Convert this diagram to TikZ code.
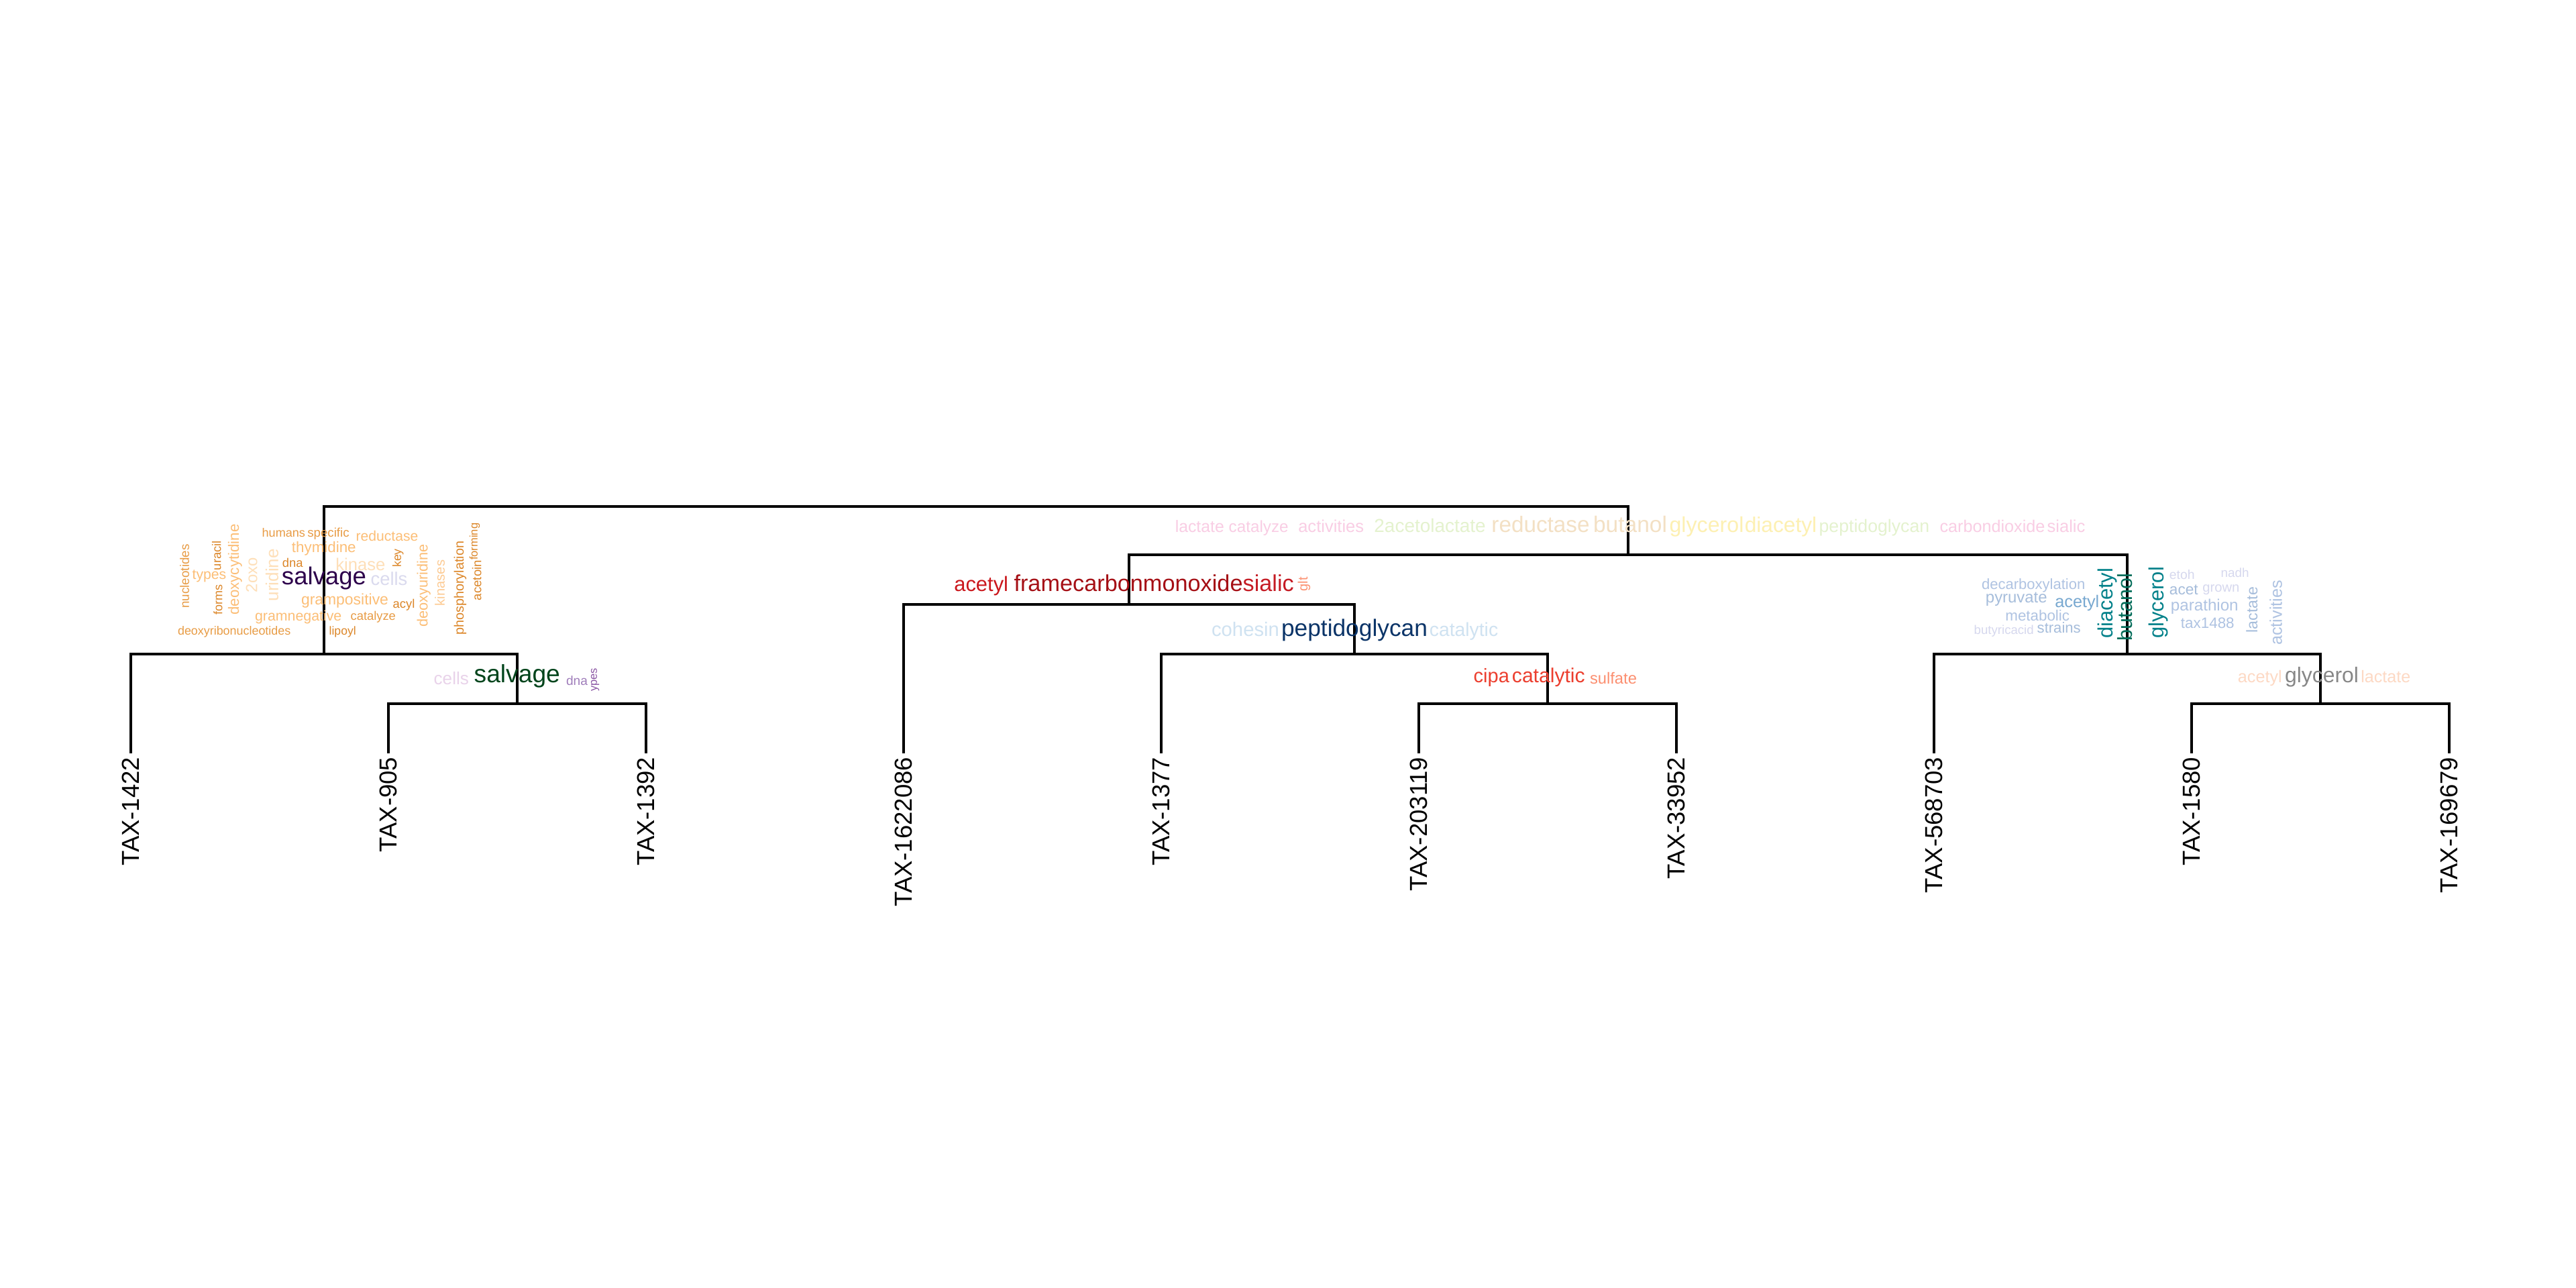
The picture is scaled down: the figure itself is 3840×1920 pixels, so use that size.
\documentclass[tikz,border=0pt]{standalone}
\usepackage{fontspec}
\setmainfont{Liberation Sans}
\usepackage{graphicx}
\newlength\pxu \setlength\pxu{0.1mm}
\newcounter{wc}
\definecolor{oA}{HTML}{DC8628}
\definecolor{oB}{HTML}{E89C45}
\definecolor{oC}{HTML}{FCBE76}
\definecolor{oC2}{HTML}{FDCB94}
\definecolor{oD}{HTML}{FEDFB8}
\definecolor{lav}{HTML}{DADAEE}
\definecolor{salv}{HTML}{2D004B}
\definecolor{dgreen}{HTML}{00441B}
\definecolor{pinkL}{HTML}{E9D3EA}
\definecolor{purpM}{HTML}{A07EBB}
\definecolor{purpD}{HTML}{8A56A3}
\definecolor{tpink}{HTML}{F9CDE4}
\definecolor{tgreen}{HTML}{E4F2CE}
\definecolor{ttan}{HTML}{F3E0C4}
\definecolor{tyel}{HTML}{FDF0B2}
\definecolor{rA}{HTML}{CB181D}
\definecolor{rB}{HTML}{A50F15}
\definecolor{rC}{HTML}{C51B24}
\definecolor{salm}{HTML}{FC9272}
\definecolor{bL}{HTML}{CFE2F1}
\definecolor{navy}{HTML}{0B3468}
\definecolor{rD}{HTML}{EC3E2E}
\definecolor{salm2}{HTML}{FC8F70}
\definecolor{gb1}{HTML}{AFC3E2}
\definecolor{gb2}{HTML}{A6BDDB}
\definecolor{gb3}{HTML}{78A8D0}
\definecolor{gl}{HTML}{D6D8EE}
\definecolor{teal1}{HTML}{02818A}
\definecolor{teal2}{HTML}{016C59}
\definecolor{peach}{HTML}{FDD9C4}
\definecolor{gry}{HTML}{878787}
\tikzset{
  word/.style={anchor=base,inner sep=0pt,outer sep=0pt},
  vword/.style={rotate=90,anchor=north,inner sep=0pt,outer sep=0pt},
  branch/.style={line width=1.35pt,line join=miter,line cap=butt,black},
  leaflab/.style={rotate=90,anchor=east,inner sep=0pt,font=\fontsize{10.4pt}{12pt}\selectfont},
}
\newcommand\cloudH[5]{\stepcounter{wc}\node[word,text=#4] (w\arabic{wc}) at (#1,#2) {\resizebox{#3\pxu}{!}{#5}};}
\newcommand\cloudV[5]{\stepcounter{wc}\node[vword,text=#4] (w\arabic{wc}) at (#1,#2) {\resizebox{#3\pxu}{!}{#5}};}
\begin{document}
\begin{tikzpicture}[x=0.1mm,y=-0.1mm]
\fill[white] (0,0) rectangle (3840,1920);
\useasboundingbox (0,0) rectangle (3840,1920);
% leaves
\foreach \i/\x in {1/195,2/579,3/963,4/1347,5/1731,6/2115,7/2499,8/2883,9/3267,10/3651}{
  \coordinate (t\i) at (\x,1123);
}
\coordinate (A) at (771,1049);
\coordinate (B) at (483,975);
\coordinate (C) at (2307,1049);
\coordinate (D) at (2019,975);
\coordinate (E) at (1683,901);
\coordinate (F) at (3459,1049);
\coordinate (G) at (3171,975);
\coordinate (H) at (2427,827);
\coordinate (R) at (1455,755);
\draw[branch] (t2) |- (A) -| (t3);
\draw[branch] (t1) |- (B) -| (A);
\draw[branch] (t6) |- (C) -| (t7);
\draw[branch] (t5) |- (D) -| (C);
\draw[branch] (t4) |- (E) -| (D);
\draw[branch] (t9) |- (F) -| (t10);
\draw[branch] (t8) |- (G) -| (F);
\draw[branch] (E) |- (H) -| (G);
\draw[branch] (B) |- (R) -| (H);
% leaf labels
\node[leaflab] (n1) at (195,1128) {TAX-1422};
\node[leaflab] (n2) at (579,1128) {TAX-905};
\node[leaflab] (n3) at (963,1128) {TAX-1392};
\node[leaflab] (n4) at (1347,1128) {TAX-1622086};
\node[leaflab] (n5) at (1731,1128) {TAX-1377};
\node[leaflab] (n6) at (2115,1128) {TAX-203119};
\node[leaflab] (n7) at (2499,1128) {TAX-33952};
\node[leaflab] (n8) at (2883,1128) {TAX-568703};
\node[leaflab] (n9) at (3267,1128) {TAX-1580};
\node[leaflab] (n10) at (3651,1128) {TAX-169679};
% cloud B
\cloudH{422.8}{800.7}{64.3}{oB}{humans}
\cloudH{489.5}{800.7}{62.3}{oB}{specific}
\cloudH{577}{806.7}{92.7}{oC}{reductase}
\cloudH{482.8}{823.3}{95.7}{oC}{thymidine}
\cloudH{436.3}{845}{30.7}{oA}{dna}
\cloudH{537.3}{850.3}{74}{oD}{kinase}
\cloudH{483}{871.7}{126}{salv}{salvage}
\cloudH{580}{872.7}{54.7}{lav}{cells}
\cloudH{312}{863.3}{50.7}{oC}{types}
\cloudH{514}{901.7}{130}{oC}{grampositive}
\cloudH{602}{906}{32.7}{oA}{acyl}
\cloudH{444.7}{925}{129.3}{oC}{gramnegative}
\cloudH{556.3}{924}{67.3}{oB}{catalyze}
\cloudH{349.2}{946.7}{168.3}{oB}{deoxyribonucleotides}
\cloudH{510.7}{946}{40}{oA}{lipoyl}
\cloudV{268.3}{859}{95}{oB}{nucleotides}
\cloudV{316}{828}{44}{oA}{uracil}
\cloudV{318.3}{894}{45}{oA}{forms}
\cloudV{340}{849}{135}{oC}{deoxycytidine}
\cloudV{366.7}{857.3}{51.7}{oD}{2oxo}
\cloudV{396}{857.3}{78.3}{oD}{uridine}
\cloudV{585}{832}{27.7}{oA}{key}
\cloudV{621.7}{873.3}{123.3}{oC}{deoxyuridine}
\cloudV{648.3}{869}{68.3}{oC2}{kinases}
\cloudV{676.7}{876.7}{140}{oA}{phosphorylation}
\cloudV{704}{865}{60}{oA}{acetoin}
\cloudV{700}{807.3}{55}{oA}{forming}
% cloud A
\cloudH{672.8}{1020}{52.3}{pinkL}{cells}
\cloudH{770.8}{1017.3}{128.3}{dgreen}{salvage}
\cloudH{860}{1021}{32}{purpM}{dna}
\cloudV{881}{1013.3}{34.7}{purpD}{ypes}
% cloud H
\cloudH{1788.3}{793.3}{73}{tpink}{lactate}
\cloudH{1876.2}{793.3}{89}{tpink}{catalyze}
\cloudH{1984.2}{793.3}{97.8}{tpink}{activities}
\cloudH{2131.6}{793.3}{166.4}{tgreen}{2acetolactate}
\cloudH{2296.5}{793.3}{146.2}{ttan}{reductase}
\cloudH{2430}{793.3}{110}{ttan}{butanol}
\cloudH{2544}{793.3}{110.8}{tyel}{glycerol}
\cloudH{2654.5}{793.3}{107.5}{tyel}{diacetyl}
\cloudH{2793.9}{793.3}{164.7}{tgreen}{peptidoglycan}
\cloudH{2970}{793.3}{157}{tpink}{carbondioxide}
\cloudH{3080}{793.3}{56.8}{tpink}{sialic}
% cloud E
\cloudH{1462.7}{881.7}{80.8}{rA}{acetyl}
\cloudH{1555.3}{881.7}{87.6}{rB}{frame}
\cloudH{1725.9}{881.7}{253.5}{rB}{carbonmonoxide}
\cloudH{1890.7}{881.7}{76.2}{rC}{sialic}
\cloudV{1934.6}{870.8}{21}{salm}{glt}
% cloud D
\cloudH{1856.5}{948.3}{100.8}{bL}{cohesin}
\cloudH{2019}{948.3}{218}{navy}{peptidoglycan}
\cloudH{2182}{948.3}{102.3}{bL}{catalytic}
% cloud C
\cloudH{2223.3}{1017.3}{53.3}{rD}{cipa}
\cloudH{2308.3}{1017.3}{108.7}{rD}{catalytic}
\cloudH{2405}{1019.3}{70}{salm2}{sulfate}
% cloud G
\cloudH{3031.2}{878.3}{154.3}{gb1}{decarboxylation}
\cloudH{3005.8}{898.3}{91.7}{gb2}{pyruvate}
\cloudH{3096.3}{905}{66}{gb3}{acetyl}
\cloudH{3037.2}{925}{95.7}{gb1}{metabolic}
\cloudH{2987.2}{945}{89}{gl}{butyricacid}
\cloudH{3069.2}{943.3}{65}{gb2}{strains}
\cloudH{3252.8}{863.3}{37.7}{gl}{etoh}
\cloudH{3331.7}{860.7}{42}{gl}{nadh}
\cloudH{3255.3}{886.7}{42.7}{gb2}{acet}
\cloudH{3310.8}{882.7}{55}{gl}{grown}
\cloudH{3286.3}{910}{100.7}{gb1}{parathion}
\cloudH{3290.8}{936}{79.7}{gb1}{tax1488}
\cloudV{3126.7}{899.2}{105}{teal1}{diacetyl}
\cloudV{3156.7}{905}{100}{teal2}{butanol}
\cloudV{3202.7}{898.3}{106.7}{teal1}{glycerol}
\cloudV{3348.3}{909.2}{68.3}{gb2}{lactate}
\cloudV{3383.3}{913.3}{96.7}{gb1}{activities}
% cloud F
\cloudH{3368.8}{1017.3}{65.7}{peach}{acetyl}
\cloudH{3461}{1017.3}{110}{gry}{glycerol}
\cloudH{3556.3}{1017.3}{74}{peach}{lactate}
\end{tikzpicture}
\end{document}
